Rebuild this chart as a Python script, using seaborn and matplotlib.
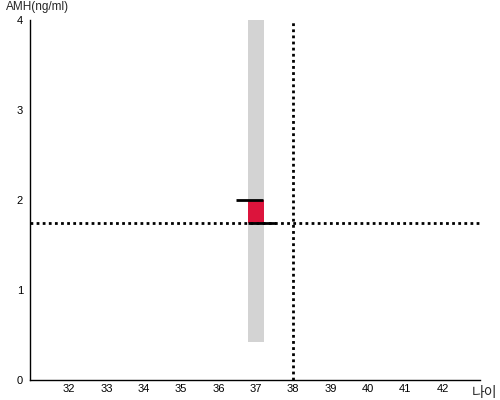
import matplotlib
matplotlib.use("Agg")
import matplotlib.pyplot as plt
import seaborn as sns

# Data
ages = [32, 33, 34, 35, 36, 37, 38, 39, 40, 41, 42]
y_ticks = [0, 1, 2, 3, 4]

my_age = 37
range_low, range_high = 0.42, 4.0      # gray band
amh_low, amh_high = 1.75, 2.0          # red box
ref_amh = 1.75                          # horizontal dotted line
ref_age = 38                            # vertical dotted line
upper_seg = (36.46, 37.2, 2.0)          # black line at top of box
lower_seg = (36.78, 37.53, 1.75)        # black line at bottom of box
bar_width = 0.42

sns.set_style("white")
plt.rcParams['font.family'] = ['Liberation Sans', 'Noto Sans CJK KR', 'DejaVu Sans']

fig = plt.figure(figsize=(5, 4), dpi=100)
ax = fig.add_axes([0.06, 0.05, 0.90, 0.90])

# gray band and red box
ax.bar([my_age], [range_high - range_low], bottom=[range_low], width=bar_width,
       color="#d3d3d3", edgecolor="none", zorder=1)
ax.bar([my_age], [amh_high - amh_low], bottom=[amh_low], width=bar_width,
       color="#dc143c", edgecolor="none", zorder=2)

# black edges
ax.hlines(upper_seg[2], upper_seg[0], upper_seg[1], color="black", lw=2, zorder=4)
ax.hlines(lower_seg[2], lower_seg[0], lower_seg[1], color="black", lw=2, zorder=4)

# reference lines
ax.axhline(ref_amh, color="black", lw=2, linestyle=(0, (1, 1.2)), zorder=3)
ax.axvline(ref_age, color="black", lw=2, linestyle=(0, (1, 1.2)), zorder=3)

ax.set_xlim(30.95, 43.0)
ax.set_ylim(0, 4)
ax.set_xticks(ages)
ax.set_yticks(y_ticks)
ax.tick_params(axis="both", labelsize=8, length=3, width=1, colors="black",
               direction="out", pad=2)
ax.tick_params(axis="x", length=0, pad=3)

for s in ["top", "right"]:
    ax.spines[s].set_visible(False)
for s in ["left", "bottom"]:
    ax.spines[s].set_color("black")
    ax.spines[s].set_linewidth(1)

fig.text(0.012, 0.997, "AMH(ng/ml)", fontsize=8.5, va="top", ha="left")
fig.text(0.994, 0.0, "나이", fontsize=10, va="bottom", ha="right",
         family=['Noto Sans CJK KR', 'DejaVu Sans'])

fig.savefig("out.png", dpi=100)
